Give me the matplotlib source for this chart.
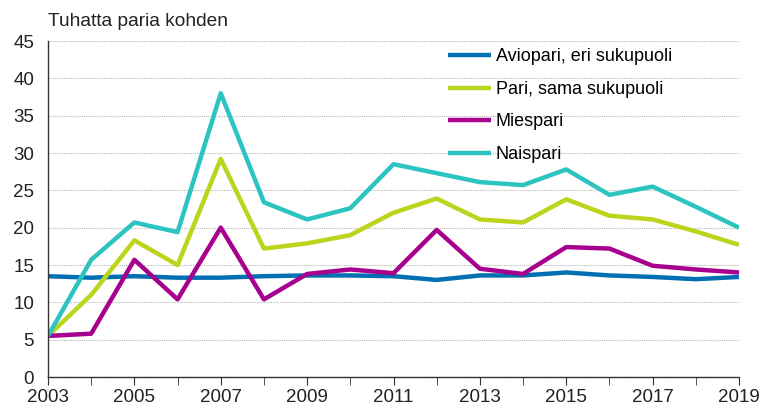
import numpy as np
import matplotlib
matplotlib.use("Agg")
import matplotlib.pyplot as plt

plt.rcParams['font.family'] = ['Liberation Sans', 'DejaVu Sans']

years = list(range(2003, 2020))
avio = [13.5, 13.3, 13.5, 13.3, 13.3, 13.5, 13.6, 13.6, 13.5, 13.0, 13.6, 13.6, 14.0, 13.6, 13.4, 13.1, 13.4]
pari = [5.5, 11.0, 18.3, 15.0, 29.2, 17.2, 17.9, 19.0, 22.0, 23.9, 21.1, 20.7, 23.8, 21.6, 21.1, 19.5, 17.7]
mies = [5.5, 5.8, 15.7, 10.4, 20.0, 10.4, 13.8, 14.4, 13.9, 19.7, 14.5, 13.8, 17.4, 17.2, 14.9, 14.4, 14.0]
nais = [5.5, 15.7, 20.7, 19.4, 38.0, 23.4, 21.1, 22.6, 28.5, 27.3, 26.1, 25.7, 27.8, 24.4, 25.5, 22.8, 20.0]

names = ["Aviopari, eri sukupuoli", "Pari, sama sukupuoli", "Miespari", "Naispari"]
colors = ["#0070b3", "#bcd41c", "#a8008e", "#2cc4c0"]

fig = plt.figure(figsize=(7.65, 4.09), dpi=100)
ax = fig.add_axes([48/765, 32/409, 691/765, 336/409])

for vals, name, c in zip([avio, pari, mies, nais], names, colors):
    ax.plot(years, vals, color=c, lw=3.2, label=name, solid_capstyle='butt')

ax.set_xlim(2003, 2019)
ax.set_ylim(0, 45)
ax.set_yticks(range(0, 46, 5))
ax.set_xticks(years, minor=True)
ax.set_xticks(range(2003, 2020, 2))
ax.grid(axis='y', color='#b8b8b8', ls=(0, (1, 1)), lw=0.8)
ax.set_axisbelow(True)

for s in ['top', 'right']:
    ax.spines[s].set_visible(False)
for s in ['left', 'bottom']:
    ax.spines[s].set_color('#333333')
    ax.spines[s].set_linewidth(1.0)

ax.tick_params(axis='y', length=0, labelsize=13.5, pad=10, colors='#222222')
ax.tick_params(axis='x', which='both', length=6, direction='out', color='#333333', labelsize=13.5, colors='#222222', pad=3)
ax.tick_params(axis='x', which='minor', length=6)

fig.text(48/765, 1 - 22/409, "Tuhatta paria kohden", fontsize=13.8, color='#222222', va='center', ha='left')

leg = ax.legend(loc='upper left', bbox_to_anchor=(0.579, 0.978), frameon=False, fontsize=13,
                handlelength=2.4, handletextpad=0.25, labelspacing=0.86, borderaxespad=0, borderpad=0)

fig.savefig("out.png", dpi=100)
